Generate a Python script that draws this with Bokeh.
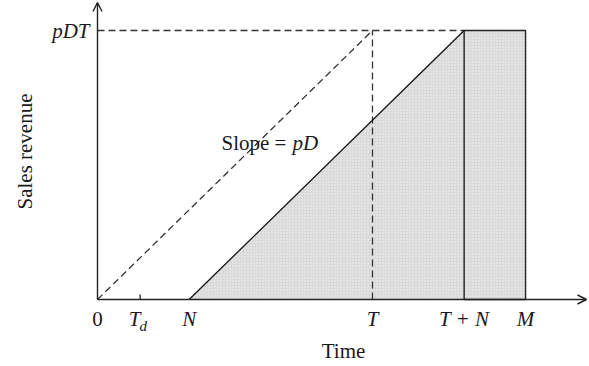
from bokeh.plotting import figure
from bokeh.models import Range1d, Arrow, OpenHead
from bokeh.embed import file_html
from bokeh.resources import INLINE
from bokeh.core.properties import value
import math

# ---- data (in model units) ----
T = 6.0          # selling period
N = 2.0          # delay
Td = 0.93        # T_d marker
M = 9.34         # horizon
pD = 1.0         # slope
pDT = pD * T     # level reached
tick_pos = [0.0, Td, N, T, T + N, M]
tick_labels = ["0", "T", "N", "T", "T + N", "M"]
tick_italic = [False, True, True, True, True, True]

FONT = "Liberation Serif"
FS = "21px"
INK = "#1a1a1a"

W, H = 588, 365
ox, oy = 97, 299          # pixel position of the origin
px_x = 45.83
px_y = 44.83
x0 = -ox / px_x
y0 = -(H - oy) / px_y


def dx(px):
    return (px - ox) / px_x


def dy(py):
    return (oy - py) / px_y


p = figure(width=W, height=H, output_backend="svg", toolbar_location=None,
           x_range=Range1d(x0, x0 + W / px_x), y_range=Range1d(y0, y0 + H / px_y),
           min_border=0)
p.axis.visible = False
p.grid.visible = False
p.outline_line_color = None
p.background_fill_color = "white"

fill = "#d9d9d9"
p.patch([N, T + N, T + N], [0, pDT, 0], fill_color=fill, line_color=None,
        hatch_pattern="dot", hatch_color="#f4f4f4", hatch_scale=3, hatch_weight=1, hatch_alpha=0.9)
p.quad(left=[T + N], right=[M], bottom=[0], top=[pDT], fill_color=fill,
       line_color="#222222", line_width=1.4,
       hatch_pattern="dot", hatch_color="#f4f4f4", hatch_scale=3, hatch_weight=1, hatch_alpha=0.9)

dash = "7 4"
p.line([0, T], [0, pDT], line_color="#333333", line_width=1.3, line_dash=dash)
p.line([0, T + N], [pDT, pDT], line_color="#333333", line_width=1.3, line_dash=dash)
p.line([T, T], [0, pDT], line_color="#333333", line_width=1.3, line_dash=dash)

p.line([N, T + N], [0, pDT], line_color="#111111", line_width=1.3)

p.add_layout(Arrow(end=OpenHead(size=9, line_color="#222222", line_width=1.4),
                   x_start=0, y_start=0, x_end=dx(586), y_end=0,
                   line_color="#222222", line_width=1.4))
p.add_layout(Arrow(end=OpenHead(size=9, line_color="#222222", line_width=1.4),
                   x_start=0, y_start=0, x_end=0, y_end=dy(2),
                   line_color="#222222", line_width=1.4))
p.segment([Td], [0], [Td], [5 / px_y], line_color="#222222", line_width=1.3)

ly = dy(318)
for xp, lab, it in zip(tick_pos, tick_labels, tick_italic):
    if xp == Td:
        p.text([dx(134)], [ly], text=[lab], text_font=value(FONT), text_font_size=FS,
               text_font_style="italic", text_align="center", text_baseline="middle",
               text_color=INK)
        p.text([dx(139)], [dy(325)], text=["d"], text_font=value(FONT), text_font_size="15px",
               text_font_style="italic", text_align="left", text_baseline="middle",
               text_color=INK)
    else:
        p.text([xp], [ly], text=[lab], text_font=value(FONT), text_font_size=FS,
               text_font_style="italic" if it else "normal", text_align="center",
               text_baseline="middle", text_color=INK)

p.text([dx(89)], [pDT], text=["pDT"], text_font=value(FONT), text_font_size=FS,
       text_font_style="italic", text_align="right", text_baseline="middle", text_color=INK)

p.text([dx(343)], [dy(350)], text=["Time"], text_font=value(FONT),
       text_font_size=FS, text_align="center", text_baseline="middle", text_color=INK)
p.text([dx(24)], [dy(151)], text=["Sales revenue"], text_font=value(FONT),
       text_font_size=FS, text_align="center", text_baseline="middle", angle=math.pi / 2,
       text_color=INK)

p.text([dx(221)], [dy(142)], text=["Slope = "], text_font=value(FONT),
       text_font_size=FS, text_align="left", text_baseline="middle", text_color=INK)
p.text([dx(292)], [dy(142)], text=["pD"], text_font=value(FONT),
       text_font_size=FS, text_font_style="italic", text_align="left", text_baseline="middle",
       text_color=INK)

open("out.html", "w").write(file_html(p, INLINE))
